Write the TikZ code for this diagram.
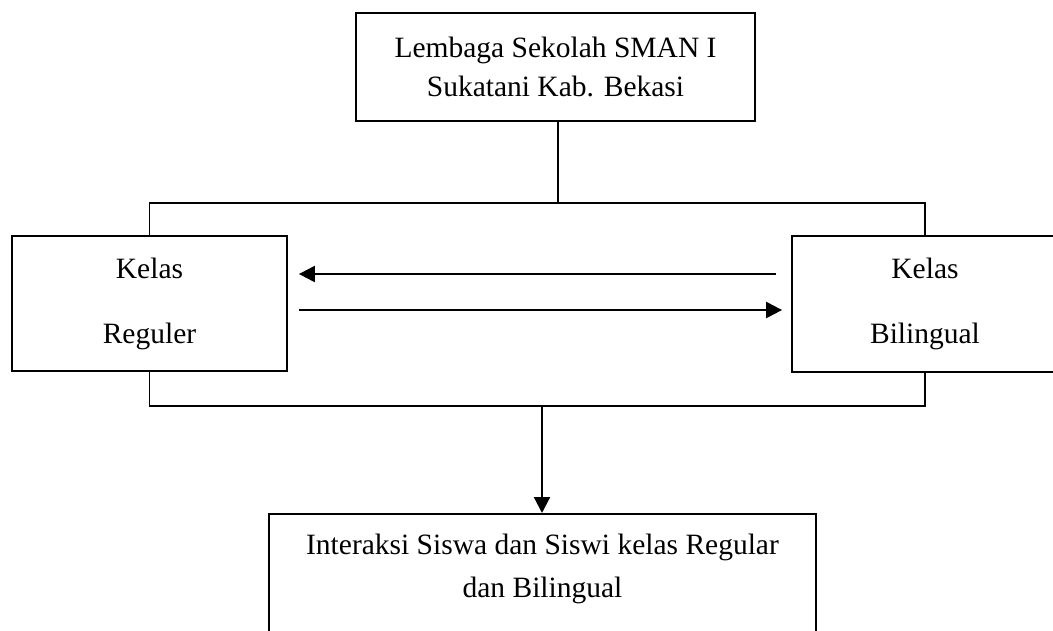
\documentclass[tikz,border=0pt]{standalone}
\usepackage{fontspec}
\setmainfont{Liberation Serif}
\usetikzlibrary{positioning}
\usetikzlibrary{arrows.meta}
\tikzstyle{kotak} = [draw, line width=1.8pt, align=center, inner sep=0pt,
                     font=\fontsize{29.5pt}{39pt}\selectfont]
\tikzstyle{garis} = [draw, line width=1.8pt]
\tikzstyle{panah} = [draw, line width=2.2pt, >={Triangle[length=16pt,width=16pt]}]

\begin{document}
\begin{tikzpicture}[x=1pt, y=1pt]
                    \clip (0,0) rectangle (1053,-630);
                    \node[kotak, minimum width=399, minimum height=108] (lembaga) at (555.5,-67)
                        {Lembaga Sekolah SMAN I\\Sukatani Kab. Bekasi};

                    \node[kotak, minimum width=275, minimum height=135] (reguler) at (149.5,-303.5)
                        {Kelas\\[26pt]Reguler};
                    \node[kotak, minimum width=266, minimum height=136] (bilingual) at (925,-304)
                        {Kelas\\[26pt]Bilingual};

                    \node[kotak, minimum width=547, anchor=north, inner ysep=20pt, text depth=160pt,
                          font=\fontsize{29.5pt}{43pt}\selectfont] (interaksi) at (542.5,-513)
                        {Interaksi Siswa dan Siswi kelas Regular\\dan Bilingual};

                    \coordinate (atas) at (558,-203);
                    \coordinate (bawah) at (542,-406);

                    \draw[garis] (lembaga.south -| atas) -- (atas);
                    \draw[garis] (reguler.north) |- (atas) -| (bilingual.north);
                    \draw[garis] (reguler.south) |- (bawah) -| (bilingual.south);
                    \draw[panah,->] (bawah) -- (interaksi.north -| bawah);

                    \draw[panah,->] ([xshift=-15pt, yshift=30pt]bilingual.west) -- ([xshift=11pt, yshift=29.5pt]reguler.east);
                    \draw[panah,->] ([xshift=11pt, yshift=-6.5pt]reguler.east) -- ([xshift=-9pt, yshift=-6pt]bilingual.west);
                \end{tikzpicture}
\end{document}
